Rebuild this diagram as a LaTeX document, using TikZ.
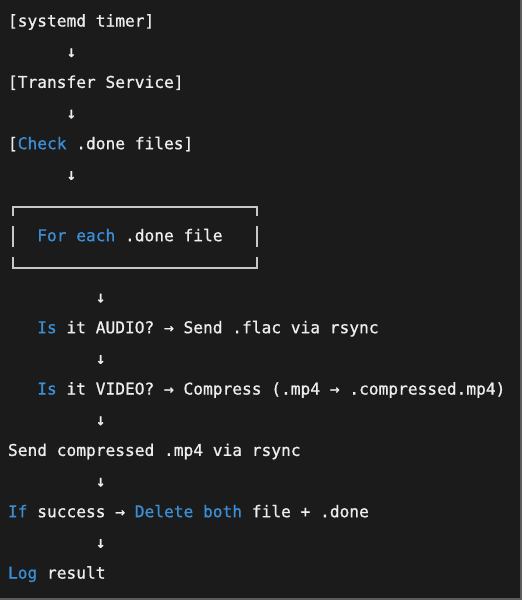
\documentclass[tikz,border=0pt]{standalone}
\usepackage{fontspec}
\newfontfamily\codefont[RawFeature={embolden=0.9}]{DejaVu Sans Mono}
\definecolor{bg}{HTML}{1B1B1B}
\definecolor{fg}{HTML}{EDEDED}
\definecolor{kwc}{HTML}{3A8FD6}
\definecolor{framec}{HTML}{5C5C5C}
\definecolor{boxc}{HTML}{C8C8C8}
\newcommand{\kwd}[1]{\textcolor{kwc}{#1}}
\begin{document}
\begin{tikzpicture}[x=1pt,y=-1pt,
  ln/.style={anchor=base west, inner sep=0pt, outer sep=0pt, text=fg,
    font=\codefont\fontsize{16.2}{20}\selectfont},
  boxline/.style={draw=boxc, line width=1.3pt},
  framel/.style={draw=framec, line width=1.5pt}]
\def\cw{9.75}
\def\lh{30.67}
\def\bl{26.5}
\def\xo{8}
\useasboundingbox (0,0) rectangle (522,600);
\fill[bg] (0,0) rectangle (522,600);
\draw[framel] (520.75,0) -- (520.75,598.75) -- (0,598.75);
% lines
\node[ln] (l0) at ({\xo},{\bl}) {[systemd timer]};
\node[ln] (a1) at ({\xo+6*\cw},{\bl+1*\lh}) {↓};
\node[ln] (l2) at ({\xo},{\bl+2*\lh}) {[Transfer Service]};
\node[ln] (a3) at ({\xo+6*\cw},{\bl+3*\lh}) {↓};
\node[ln] (l4) at ({\xo},{\bl+4*\lh}) {[\kwd{Check} .done files]};
\node[ln] (a5) at ({\xo+6*\cw},{\bl+5*\lh}) {↓};
% box
\path[boxline] (13,216) -- (13,207) -- (257,207) -- (257,216);
\path[boxline] (13,226) -- (13,247);
\path[boxline] (257,226) -- (257,247);
\path[boxline] (13,257) -- (13,268) -- (257,268) -- (257,257);
\node[ln] (l7) at ({\xo+3*\cw},{\bl+7*\lh}) {\kwd{For each} .done file};
\node[ln] (a9) at ({\xo+9*\cw},{\bl+9*\lh}) {↓};
\node[ln] (l10) at ({\xo+3*\cw},{\bl+10*\lh}) {\kwd{Is} it AUDIO? → Send .flac via rsync};
\node[ln] (a11) at ({\xo+9*\cw},{\bl+11*\lh}) {↓};
\node[ln] (l12) at ({\xo+3*\cw},{\bl+12*\lh}) {\kwd{Is} it VIDEO? → Compress (.mp4 → .compressed.mp4)};
\node[ln] (a13) at ({\xo+9*\cw},{\bl+13*\lh}) {↓};
\node[ln] (l14) at ({\xo},{\bl+14*\lh}) {Send compressed .mp4 via rsync};
\node[ln] (a15) at ({\xo+9*\cw},{\bl+15*\lh}) {↓};
\node[ln] (l16) at ({\xo},{\bl+16*\lh}) {\kwd{If} success → \kwd{Delete both} file + .done};
\node[ln] (a17) at ({\xo+9*\cw},{\bl+17*\lh}) {↓};
\node[ln] (l18) at ({\xo},{\bl+18*\lh}) {\kwd{Log} result};
\end{tikzpicture}
\end{document}
